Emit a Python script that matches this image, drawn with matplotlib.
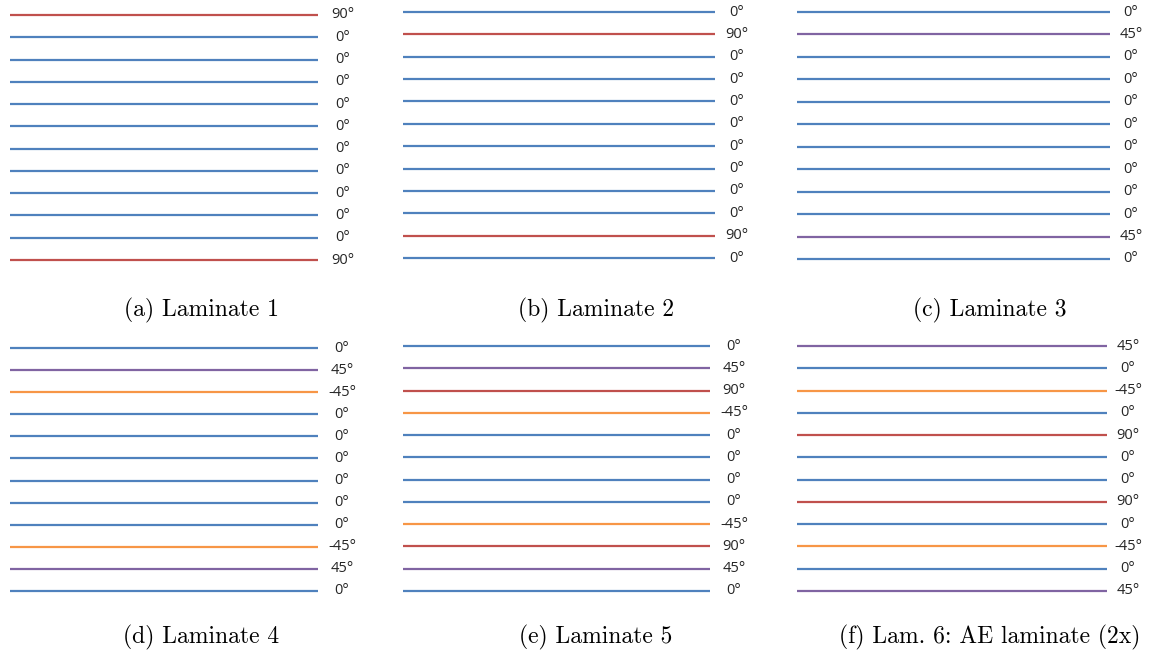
import matplotlib
matplotlib.use("Agg")
import matplotlib.pyplot as plt

W, H = 1152, 657

# ply orientations, top to bottom
lam1 = [90, 0, 0, 0, 0, 0, 0, 0, 0, 0, 0, 90]
lam2 = [0, 90, 0, 0, 0, 0, 0, 0, 0, 0, 90, 0]
lam3 = [0, 45, 0, 0, 0, 0, 0, 0, 0, 0, 45, 0]
lam4 = [0, 45, -45, 0, 0, 0, 0, 0, 0, -45, 45, 0]
lam5 = [0, 45, 90, -45, 0, 0, 0, 0, -45, 90, 45, 0]
lam6 = [45, 0, -45, 0, 90, 0, 0, 90, 0, -45, 0, 45]

captions = ["(a) Laminate 1", "(b) Laminate 2", "(c) Laminate 3",
            "(d) Laminate 4", "(e) Laminate 5", "(f) Lam. 6: AE laminate (2x)"]

COLORS = {0: "#4F81BD", 90: "#C0504D", 45: "#8064A2", -45: "#F79646"}

# panel boxes in pixels: left, right, top line, bottom line, label centre x, caption centre x, caption y
panels = [
    (lam1, 10, 318, 15, 260, 343, 201, 310),
    (lam2, 403, 715, 12, 258, 737, 596, 310),
    (lam3, 797, 1110, 12, 259, 1131, 990, 310),
    (lam4, 10, 318, 348, 591, 342, 201, 637),
    (lam5, 403, 710, 346, 591, 734, 596, 637),
    (lam6, 797, 1107, 346, 591, 1128, 990, 637),
]

fig = plt.figure(figsize=(W / 100, H / 100), dpi=100)

for (plies, x0, x1, y0, y1, lx, cx, cy), cap in zip(panels, captions):
    ax = fig.add_axes([x0 / W, 1 - y1 / H, (x1 - x0) / W, (y1 - y0) / H])
    n = len(plies)
    for i, ang in enumerate(plies):
        ax.plot([0, 1], [i, i], color=COLORS[ang], lw=1.6, solid_capstyle="butt",
                clip_on=False)
        ax.annotate(f"{ang}°", xy=(1, i), xytext=(lx - x1, 0), textcoords="offset pixels",
                    ha="center", va="center", fontsize=10.5, color="#262626",
                    family=["Open Sans", "DejaVu Sans"], annotation_clip=False)
    ax.set_xlim(0, 1)
    ax.set_ylim(n - 1, 0)
    ax.axis("off")
    fig.text(cx / W, 1 - cy / H, cap, ha="center", va="center",
             fontsize=17, family="cmr10")

fig.savefig("out.png", dpi=100)
